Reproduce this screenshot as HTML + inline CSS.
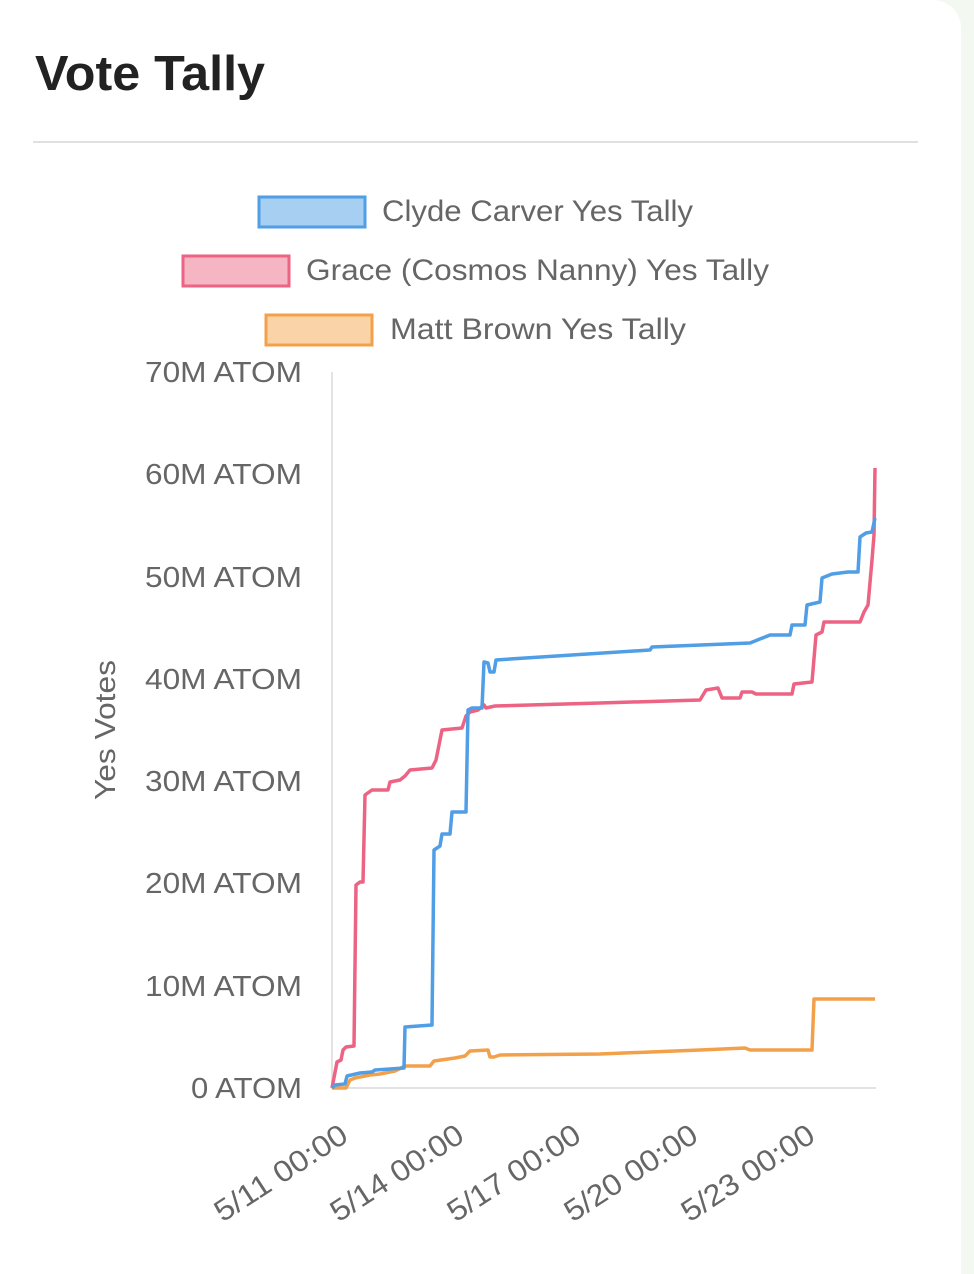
<!DOCTYPE html>
<html><head><style>
html,body{margin:0;padding:0;background:#f3f8f1;}
body{width:974px;height:1274px;position:relative;overflow:hidden;font-family:"Liberation Sans",sans-serif;}
.card{position:absolute;left:0;top:0;width:961px;height:1274px;background:#fff;border-top-right-radius:28px;}
</style></head><body>
<div class="card"></div>
<svg width="974" height="1274" style="position:absolute;left:0;top:0" font-family="Liberation Sans, sans-serif">
<text x="35" y="90" font-size="49" font-weight="bold" fill="#222" textLength="230" lengthAdjust="spacingAndGlyphs">Vote Tally</text>
<rect x="33" y="141" width="885" height="2" fill="#e0e0e0"/>
<rect x="259" y="197" width="106" height="30" fill="#a7cff2" stroke="#4f9ee6" stroke-width="3"/>
<text x="382" y="221" font-size="30" fill="#666" textLength="311" lengthAdjust="spacingAndGlyphs">Clyde Carver Yes Tally</text>
<rect x="183" y="256" width="106" height="30" fill="#f5b5c3" stroke="#ec6383" stroke-width="3"/>
<text x="306" y="280" font-size="30" fill="#666" textLength="463" lengthAdjust="spacingAndGlyphs">Grace (Cosmos Nanny) Yes Tally</text>
<rect x="266" y="315" width="106" height="30" fill="#fad4a8" stroke="#f3a04a" stroke-width="3"/>
<text x="390" y="339" font-size="30" fill="#666" textLength="296" lengthAdjust="spacingAndGlyphs">Matt Brown Yes Tally</text>
<g font-size="29" fill="#666" text-anchor="end">
<text x="302" y="382" textLength="157" lengthAdjust="spacingAndGlyphs">70M ATOM</text>
<text x="302" y="484" textLength="157" lengthAdjust="spacingAndGlyphs">60M ATOM</text>
<text x="302" y="587" textLength="157" lengthAdjust="spacingAndGlyphs">50M ATOM</text>
<text x="302" y="689" textLength="157" lengthAdjust="spacingAndGlyphs">40M ATOM</text>
<text x="302" y="791" textLength="157" lengthAdjust="spacingAndGlyphs">30M ATOM</text>
<text x="302" y="893" textLength="157" lengthAdjust="spacingAndGlyphs">20M ATOM</text>
<text x="302" y="996" textLength="157" lengthAdjust="spacingAndGlyphs">10M ATOM</text>
<text x="302" y="1098" textLength="111" lengthAdjust="spacingAndGlyphs">0 ATOM</text>
</g>
<text transform="translate(115,730) rotate(-90)" font-size="29" fill="#666" text-anchor="middle" textLength="140" lengthAdjust="spacingAndGlyphs">Yes Votes</text>
<line x1="332" y1="372" x2="332" y2="1089" stroke="#e3e3e3" stroke-width="2"/>
<line x1="332" y1="1088" x2="876" y2="1088" stroke="#e3e3e3" stroke-width="2"/>
<g font-size="30" fill="#666" text-anchor="end">
<text transform="translate(350,1140) rotate(-33)" textLength="152" lengthAdjust="spacingAndGlyphs">5/11 00:00</text>
<text transform="translate(466,1140) rotate(-33)" textLength="152" lengthAdjust="spacingAndGlyphs">5/14 00:00</text>
<text transform="translate(583,1140) rotate(-33)" textLength="152" lengthAdjust="spacingAndGlyphs">5/17 00:00</text>
<text transform="translate(700,1140) rotate(-33)" textLength="152" lengthAdjust="spacingAndGlyphs">5/20 00:00</text>
<text transform="translate(817,1140) rotate(-33)" textLength="152" lengthAdjust="spacingAndGlyphs">5/23 00:00</text>
</g>
<g fill="none" stroke-width="3.5" stroke-linejoin="round">
<polyline stroke="#f3a04a" points="332,1088 346,1088 350,1080 355,1078 370,1075 380,1074 395,1071 405,1066 430,1066 434,1061 448,1059 455,1058 465,1056 470,1051 488,1050 490,1057 494,1057 500,1055 600,1054 700,1050 745,1048 750,1050 812,1050 814,999 875,999"/>
<polyline stroke="#ec6383" points="332,1088 337,1062 341,1060 343,1050 346,1047 354,1046 356,885 360,882 363,882 365,795 372,790 388,790 390,782 400,780 405,776 410,770 432,768 436,760 442,730 462,728 466,716 470,712 478,710 484,705 486,708 495,706 600,703 700,700 706,690 718,688 722,698 740,698 742,692 752,692 756,694 775,694 792,694 794,684 812,682 816,635 822,632 824,622 860,622 864,612 868,605 872,560 874,535 875,468"/>
<polyline stroke="#4f9ee6" points="332,1088 335,1085 345,1084 347,1076 360,1073 372,1072 375,1070 404,1068 405,1027 432,1025 434,850 440,846 442,834 450,834 452,812 466,812 468,710 472,708 482,708 484,662 488,663 490,672 494,672 496,660 510,659 650,650 652,647 750,643 770,635 790,635 792,625 805,625 807,605 820,602 822,578 832,574 848,572 858,572 860,537 866,533 872,532 875,518"/>
</g>
</svg>
</body></html>
